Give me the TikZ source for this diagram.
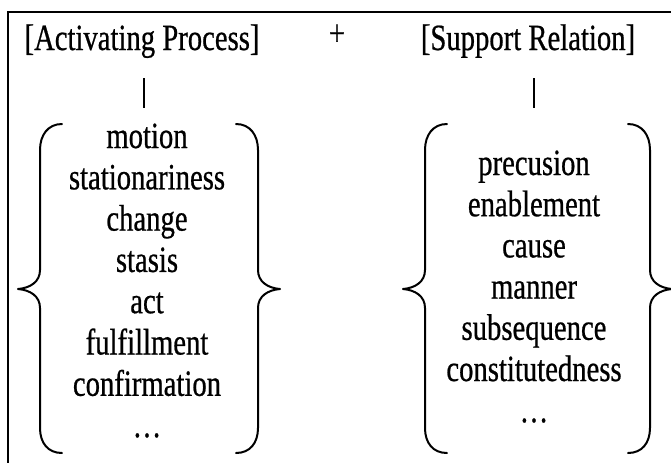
\documentclass[tikz,border=0pt]{standalone}
\usepackage{fontspec}
\setmainfont{Liberation Serif}[FakeStretch=0.775,FakeBold=0.6]
\begin{document}
\begin{tikzpicture}[x=0.5pt,y=-0.5pt,
  lbl/.style={font=\fontsize{18.5}{21}\selectfont, inner sep=0pt, anchor=base},
  brace/.style={line width=1pt, line join=round, line cap=round},
  bar/.style={line width=0.75pt},
  bracepic/.pic={\draw[brace] (22,124) .. controls (8,124) and (0,135) .. (0,150) -- (0,270)
      .. controls (0,282) and (-10,288) .. (-22,289)
      .. controls (-10,290) and (0,296) .. (0,308) -- (0,428)
      .. controls (0,443) and (8,453) .. (22,453);}]
\useasboundingbox (0,0) rectangle (671,462);
\clip (0,0) rectangle (671,462);
% frame (cropped)
\draw[line width=1.2pt] (7,12) -- (680,12);
\draw[line width=0.8pt] (8,12) -- (8,470);
% headers
\node[lbl] (ap) at (142,50) {[Activating Process]};
\node[lbl, anchor=center] (plus) at (337,35) {+};
\node[lbl] (sr) at (528,50) {[Support Relation]};
% bars
\coordinate (apt) at (144,78);
\coordinate (apb) at (144,108);
\coordinate (srt) at (534,78);
\coordinate (srb) at (534,108);
\draw[bar] (apt) -- (apb);
\draw[bar] (srt) -- (srb);
% lists
\foreach \t [count=\i] in {motion,stationariness,change,stasis,act,fulfillment,confirmation,…}
  \node[lbl] (L\i) at (147,{148+(\i-1)*41.3}) {\t};
\foreach \t [count=\i] in {precusion,enablement,cause,manner,subsequence,constitutedness,…}
  \node[lbl] (R\i) at (534,{175+(\i-1)*41.2}) {\t};
% braces
\pic at (40,0) {bracepic};
\pic[xscale=-1] at (258,0) {bracepic};
\pic at (425,0) {bracepic};
\pic[xscale=-1] at (650,0) {bracepic};
\end{tikzpicture}
\end{document}
